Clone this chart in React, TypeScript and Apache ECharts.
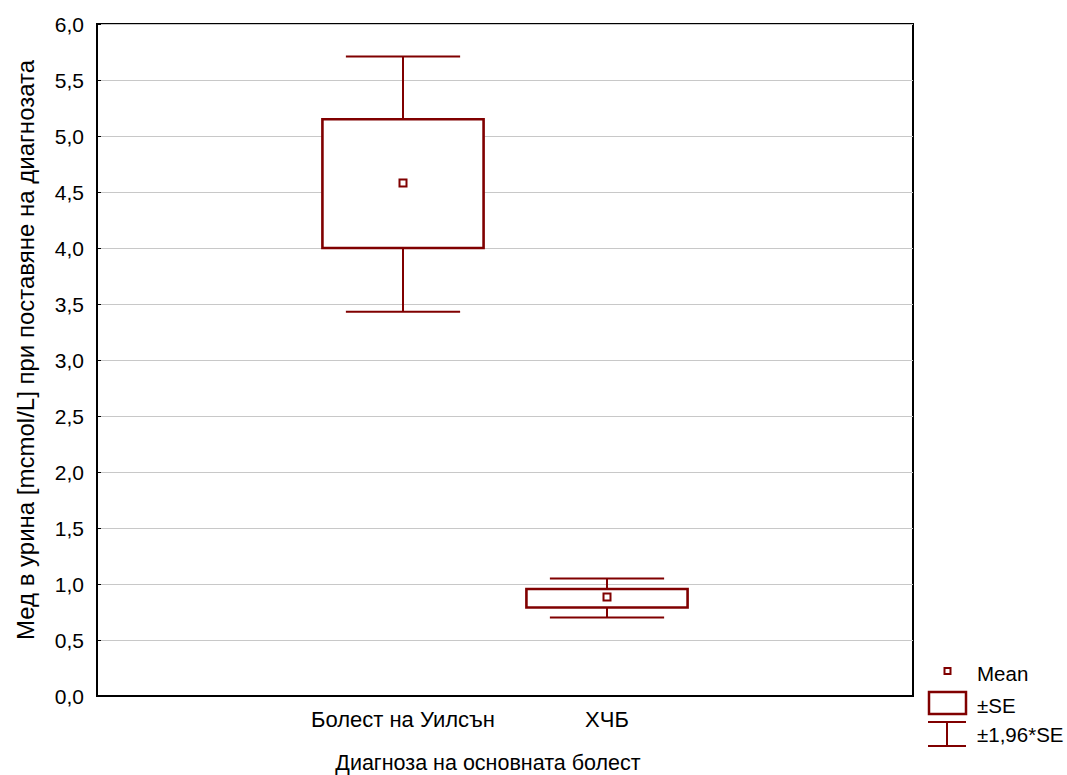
import React, { useEffect, useRef } from "react";
import * as echarts from "echarts";

const categories = ["", "Болест на Уилсън", "ХЧБ", ""];
// per group: low (-1.96*SE), lower SE, mean, upper SE, high (+1.96*SE)
const groupIndex = [1, 2];
const lowWhisker = [3.43, 0.70];
const lowerSE = [4.0, 0.79];
const means = [4.58, 0.885];
const upperSE = [5.15, 0.955];
const highWhisker = [5.71, 1.05];
const yTicks = { min: 0, max: 6, interval: 0.5 };

const legendLabels = ["Mean", "±SE", "±1,96*SE"];
const xTitle = "Диагноза на основната болест";
const yTitle = "Мед в урина [mcmol/L] при поставяне на диагнозата";

const RED = "#800000";
const FONT = "Arial, 'Liberation Sans', sans-serif";

export default function App() {
  const ref = useRef<HTMLDivElement>(null);
  useEffect(() => {
    if (!ref.current) return;
    const chart = echarts.init(ref.current, undefined, { renderer: "svg" });
    const data = groupIndex.map((g, i) => [
      g,
      lowWhisker[i],
      lowerSE[i],
      means[i],
      upperSE[i],
      highWhisker[i],
    ]);
    const option: any = {
      animation: false,
      backgroundColor: "#ffffff",
      textStyle: { fontFamily: FONT },
      grid: {
        left: 97,
        top: 24,
        right: 154,
        bottom: 79,
        show: true,
        borderColor: "#000",
        borderWidth: 2,
        backgroundColor: "#fff",
      },
      xAxis: {
        type: "category",
        data: categories,
        boundaryGap: true,
        axisLine: { lineStyle: { color: "#000", width: 2 } },
        axisTick: {
          alignWithLabel: true,
          inside: true,
          length: 5,
          lineStyle: { color: "#000", width: 1 },
        },
        axisLabel: {
          color: "#000",
          fontSize: 22,
          fontFamily: FONT,
          margin: 12,
          interval: 0,
        },
        splitLine: { show: false },
      },
      yAxis: {
        type: "value",
        min: yTicks.min,
        max: yTicks.max,
        interval: yTicks.interval,
        axisLine: { show: true, lineStyle: { color: "#000", width: 2 } },
        axisTick: {
          show: true,
          inside: true,
          length: 4,
          lineStyle: { color: "#000", width: 1 },
        },
        axisLabel: {
          color: "#000",
          fontSize: 21,
          fontFamily: FONT,
          margin: 13,
          formatter: (v: number) => v.toFixed(1).replace(".", ","),
        },
        splitLine: { show: true, lineStyle: { color: "#c8c8c8", width: 1 } },
      },
      series: [
        {
          type: "custom",
          data,
          encode: { x: 0, y: [1, 2, 3, 4, 5] },
          renderItem: (params: any, api: any) => {
            const x = api.value(0);
            const bw = api.size([1, 0])[0];
            const boxW = bw * 0.79;
            const capW = bw * 0.56;
            const pLow = api.coord([x, api.value(1)]);
            const pQ1 = api.coord([x, api.value(2)]);
            const pMean = api.coord([x, api.value(3)]);
            const pQ3 = api.coord([x, api.value(4)]);
            const pHigh = api.coord([x, api.value(5)]);
            const cx = pMean[0];
            const lineStyle = { stroke: RED, lineWidth: 2, fill: null };
            return {
              type: "group",
              children: [
                { type: "line", shape: { x1: cx, y1: pHigh[1], x2: cx, y2: pQ3[1] }, style: lineStyle },
                { type: "line", shape: { x1: cx, y1: pQ1[1], x2: cx, y2: pLow[1] }, style: lineStyle },
                { type: "line", shape: { x1: cx - capW / 2, y1: pHigh[1], x2: cx + capW / 2, y2: pHigh[1] }, style: lineStyle },
                { type: "line", shape: { x1: cx - capW / 2, y1: pLow[1], x2: cx + capW / 2, y2: pLow[1] }, style: lineStyle },
                {
                  type: "rect",
                  shape: { x: cx - boxW / 2, y: pQ3[1], width: boxW, height: pQ1[1] - pQ3[1] },
                  style: { stroke: RED, lineWidth: 2.6, fill: "#fff" },
                },
                {
                  type: "rect",
                  shape: { x: cx - 3.5, y: pMean[1] - 3.5, width: 7, height: 7 },
                  style: { stroke: RED, lineWidth: 2, fill: "#fff" },
                },
              ],
            };
          },
          z: 3,
        },
      ],
      graphic: [
        {
          type: "text",
          x: 488,
          y: 763,
          style: {
            text: xTitle,
            fontSize: 21.5,
            fontFamily: FONT,
            fill: "#000",
            align: "center",
            verticalAlign: "middle",
          },
        },
        {
          type: "text",
          x: 25,
          y: 350,
          rotation: Math.PI / 2,
          style: {
            text: yTitle,
            fontSize: 24,
            fontFamily: FONT,
            fill: "#000",
            align: "center",
            verticalAlign: "middle",
          },
        },
        // legend
        {
          type: "rect",
          shape: { x: 944.5, y: 668, width: 6, height: 6 },
          style: { stroke: RED, lineWidth: 2, fill: "#fff" },
        },
        {
          type: "rect",
          shape: { x: 929, y: 692, width: 37, height: 22 },
          style: { stroke: RED, lineWidth: 2.5, fill: "#fff" },
        },
        { type: "line", shape: { x1: 928, y1: 722, x2: 966, y2: 722 }, style: { stroke: RED, lineWidth: 2 } },
        { type: "line", shape: { x1: 928, y1: 746, x2: 966, y2: 746 }, style: { stroke: RED, lineWidth: 2 } },
        { type: "line", shape: { x1: 947, y1: 722, x2: 947, y2: 746 }, style: { stroke: RED, lineWidth: 2 } },
        ...legendLabels.map((t, i) => ({
          type: "text",
          x: 977,
          y: [673, 705, 734.5][i],
          style: {
            text: t,
            fontSize: 20.5,
            fontFamily: FONT,
            fill: "#000",
            align: "left",
            verticalAlign: "middle",
          },
        })),
      ],
    };
    chart.setOption(option);
    return () => chart.dispose();
  }, []);
  return (
    <div
      ref={ref}
      style={{ position: "absolute", left: 0, top: 0, width: 1067, height: 775 }}
    />
  );
}
